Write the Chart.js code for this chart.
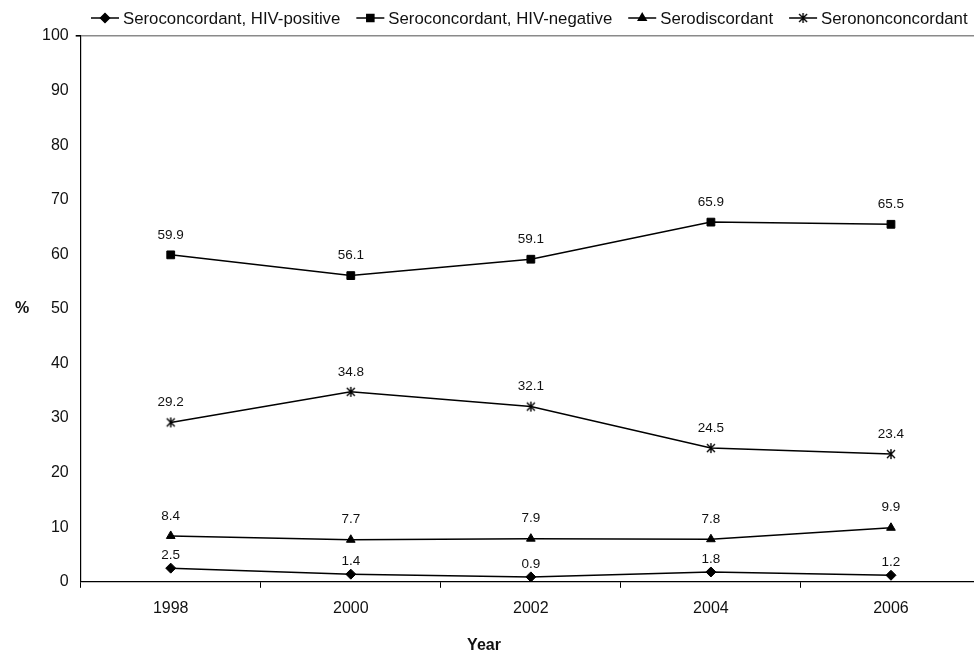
<!DOCTYPE html>
<html>
<head>
<meta charset="utf-8">
<script src="https://cdn.jsdelivr.net/npm/chart.js@4.4.1/dist/chart.umd.min.js"></script>
<style>
  html, body { margin: 0; padding: 0; background: #fff; overflow: hidden; }
  #wrap { width: 988px; height: 662px; }
</style>
</head>
<body>
<div id="wrap"><canvas id="chart" width="988" height="662"></canvas></div>
<script>
// Survey years
const years = ['1998', '2000', '2002', '2004', '2006'];

// Percentage of couples by serostatus
const hivPositive = [2.5, 1.4, 0.9, 1.8, 1.2];
const hivNegative = [59.9, 56.1, 59.1, 65.9, 65.5];
const serodiscordant = [8.4, 7.7, 7.9, 7.8, 9.9];
const serononconcordant = [29.2, 34.8, 32.1, 24.5, 23.4];

const seriesNames = [
  'Seroconcordant, HIV-positive',
  'Seroconcordant, HIV-negative',
  'Serodiscordant',
  'Serononconcordant'
];

const FONT = '"Liberation Sans", Arial, Helvetica, sans-serif';
const INK = '#000';

// Asterisk-style marker: an X crossed by a vertical stroke
function makeStar() {
  const c = document.createElement('canvas');
  c.width = 12; c.height = 12;
  const g = c.getContext('2d');
  g.strokeStyle = INK;
  g.lineWidth = 1.4;
  g.beginPath();
  g.moveTo(2, 2); g.lineTo(10, 10);
  g.moveTo(10, 2); g.lineTo(2, 10);
  g.moveTo(6, 1); g.lineTo(6, 11);
  g.stroke();
  return c;
}
const starMarker = makeStar();

const markerStyles = ['rectRot', 'rect', 'triangle', starMarker];
const markerRadius = [5, 5.5, 5, 6];
const labelOffsets = [12.5, 20, 20, 20];

const seriesData = [hivPositive, hivNegative, serodiscordant, serononconcordant];

const datasets = seriesData.map((vals, i) => ({
  label: seriesNames[i],
  data: vals,
  borderColor: INK,
  backgroundColor: INK,
  borderWidth: 1.5,
  pointStyle: markerStyles[i],
  pointRadius: markerRadius[i],
  pointHoverRadius: markerRadius[i],
  pointBorderWidth: 1,
  pointBackgroundColor: INK,
  pointBorderColor: INK,
  tension: 0,
  labelOffset: labelOffsets[i]
}));

// Value labels above each point
const valueLabels = {
  id: 'valueLabels',
  afterDatasetsDraw(chart) {
    const ctx = chart.ctx;
    ctx.save();
    ctx.font = '13.5px ' + FONT;
    ctx.fillStyle = '#111';
    ctx.textAlign = 'center';
    ctx.textBaseline = 'middle';
    chart.data.datasets.forEach((ds, i) => {
      const meta = chart.getDatasetMeta(i);
      meta.data.forEach((pt, j) => {
        ctx.fillText(ds.data[j].toFixed(1), pt.x, pt.y - ds.labelOffset);
      });
    });
    ctx.restore();
  }
};

// Legend row plus the unrotated "%" and "Year" axis captions
const legendAndCaptions = {
  id: 'legendAndCaptions',
  afterDraw(chart) {
    const ctx = chart.ctx;
    const area = chart.chartArea;
    ctx.save();
    ctx.font = '16.8px ' + FONT;
    ctx.textBaseline = 'middle';
    ctx.textAlign = 'left';
    let x = 91;
    const y = 18;
    chart.data.datasets.forEach((ds, i) => {
      ctx.strokeStyle = INK;
      ctx.lineWidth = 1.5;
      ctx.beginPath();
      ctx.moveTo(x, y); ctx.lineTo(x + 28, y);
      ctx.stroke();
      Chart.helpers.drawPoint(ctx, {
        pointStyle: ds.pointStyle, radius: ds.pointRadius - 0.5, rotation: 0, borderWidth: 1
      }, x + 14, y);
      ctx.fillStyle = INK;
      if (typeof ds.pointStyle === 'string') {
        ctx.fill();
      }
      ctx.fillStyle = '#111';
      ctx.fillText(ds.label, x + 32, y + 1);
      x += 32 + ctx.measureText(ds.label).width + 16;
    });
    ctx.font = 'bold 16px ' + FONT;
    ctx.textAlign = 'center';
    ctx.fillText('%', 22, (area.top + area.bottom) / 2);
    ctx.fillText('Year', 484, 646);
    ctx.restore();
  }
};

new Chart(document.getElementById('chart'), {
  type: 'line',
  data: { labels: years, datasets },
  plugins: [valueLabels, legendAndCaptions],
  options: {
    responsive: false,
    animation: false,
    events: [],
    layout: { padding: { top: 36, right: 4, left: 35, bottom: 33 } },
    plugins: {
      legend: { display: false },
      tooltip: { enabled: false }
    },
    scales: {
      x: {
        offset: true,
        grid: {
          offset: true,
          drawOnChartArea: false,
          drawTicks: true,
          tickLength: 6,
          tickColor: INK
        },
        border: { display: true, color: INK, width: 1.2 },
        ticks: { color: '#111', font: { family: FONT, size: 16 }, padding: 11, maxRotation: 0 }
      },
      y: {
        min: 0,
        max: 100,
        ticks: { stepSize: 10, color: '#111', font: { family: FONT, size: 16 }, padding: 7 },
        grid: {
          drawTicks: true,
          tickLength: 5,
          tickColor: INK,
          color: c => (c.tick && c.tick.value === 100 ? '#8a8a8a' : 'rgba(0,0,0,0)'),
          lineWidth: c => (c.tick && c.tick.value === 100 ? 1.6 : 0)
        },
        border: { display: true, color: INK, width: 1.2 }
      }
    }
  }
});
</script>
</body>
</html>
